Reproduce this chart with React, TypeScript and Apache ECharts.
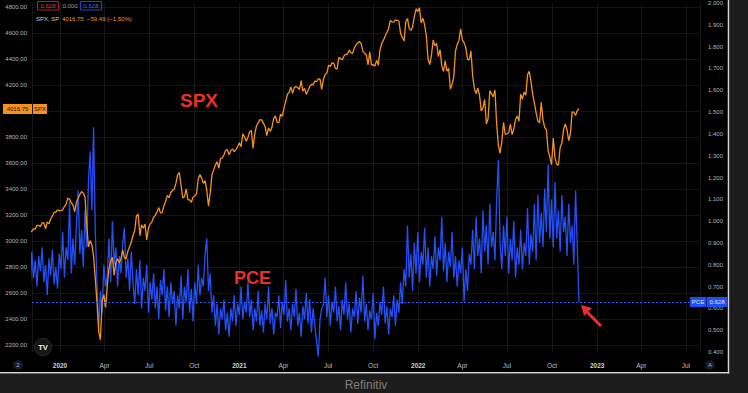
import { useEffect, useRef } from "react";
import * as echarts from "echarts";

// Half-weekly samples (Fri, following Tue) starting Fri 2019-11-01
const START = new Date(2019, 10, 1).getTime();
const STEP = 3.5 * 86400000;

const spxValues = [
  3067, 3075, 3093, 3092, 3120, 3120, 3110, 3140, 3141, 3093, 3146, 3132, 3169, 3193, 3221, 3223, 3240, 3231,
  3235, 3238, 3265, 3284, 3330, 3321, 3295, 3276, 3225, 3298,
  3328, 3358, 3380, 3370, 3338, 3128, 2954, 3003,
  2972, 2882, 2711, 2529, 2305, 2240, 2541, 2585,
  2489, 2659, 2790, 2846, 2875, 2737, 2837, 2863,
  2831, 2868, 2930, 2870, 2864, 2922, 2955, 2992, 3044, 3081,
  3194, 3207, 3041, 3125, 3098, 3131, 3009, 3100,
  3130, 3145, 3185, 3197, 3225, 3257, 3216, 3218, 3271, 3306,
  3351, 3333, 3373, 3390, 3397, 3443, 3508, 3527,
  3427, 3331, 3341, 3401, 3319, 3316, 3298, 3336,
  3348, 3361, 3477, 3512, 3484, 3443, 3465, 3390, 3270, 3370,
  3509, 3545, 3585, 3610, 3558, 3635, 3638, 3662,
  3699, 3702, 3663, 3695, 3709, 3687, 3703, 3727,
  3756, 3726, 3825, 3801, 3768, 3798, 3841, 3849, 3714, 3826,
  3887, 3911, 3934, 3932, 3907, 3881, 3811, 3870,
  3842, 3875, 3943, 3963, 3913, 3910, 3975, 3959,
  4020, 4074, 4129, 4142, 4185, 4135, 4180, 4187, 4181, 4165,
  4233, 4153, 4174, 4128, 4156, 4189, 4204, 4202,
  4230, 4227, 4247, 4246, 4166, 4246, 4281, 4291,
  4352, 4343, 4370, 4369, 4327, 4323, 4412, 4401, 4395, 4423,
  4437, 4436, 4468, 4449, 4442, 4486, 4509, 4523,
  4535, 4520, 4459, 4443, 4433, 4354, 4455, 4353,
  4357, 4345, 4391, 4351, 4471, 4520, 4545, 4575, 4605, 4631,
  4697, 4685, 4683, 4701, 4698, 4690, 4595, 4567,
  4538, 4686, 4712, 4634, 4620, 4649, 4726, 4786, 4766, 4794,
  4677, 4713, 4663, 4577, 4398, 4357, 4432, 4546,
  4501, 4521, 4419, 4471, 4349, 4304, 4385, 4306,
  4329, 4170, 4204, 4262, 4463, 4512, 4543, 4632,
  4546, 4526, 4488, 4397, 4393, 4462, 4272, 4175, 4132, 4175,
  4123, 4001, 4024, 4089, 3901, 3941, 4158, 4132,
  4109, 4161, 3901, 3735, 3675, 3765, 3912, 3821,
  3825, 3831, 3899, 3819, 3863, 3937, 3962, 3921, 4130, 4091,
  4145, 4122, 4280, 4305, 4228, 4128, 4058, 3986,
  3924, 3908, 4067, 3932, 3873, 3856, 3693, 3647, 3586, 3791,
  3640, 3589, 3583, 3720, 3753, 3859, 3901, 3856,
  3771, 3828, 3993, 3991, 3965, 4004, 4016.75,
];

const pceValues = [
  0.68, 0.86, 0.74, 0.82, 0.70, 0.84, 0.77, 0.88, 0.72, 0.80,
  0.66, 0.83, 0.75, 0.87, 0.71, 0.79, 0.69, 0.85,
  0.78, 0.95, 0.74, 0.88, 0.82, 1.09, 0.76, 0.92, 0.80, 0.98,
  1.14, 0.85, 0.96, 0.79, 1.05, 0.88, 1.18,
  1.32, 1.05, 1.43, 0.95, 0.72,
  0.50, 0.68, 0.58, 0.80, 0.70,
  0.75, 0.92, 0.72, 1.0, 0.80, 0.88, 0.70, 0.84, 0.76, 0.90,
  0.97, 0.74, 0.83, 0.68, 0.86, 0.72,
  0.62, 0.78, 0.66, 0.82, 0.60, 0.74, 0.68, 0.80, 0.58, 0.72,
  0.64, 0.76, 0.60, 0.70, 0.55, 0.73, 0.66, 0.78, 0.59, 0.70,
  0.56, 0.72, 0.62, 0.68, 0.52, 0.66, 0.60, 0.75, 0.55, 0.70,
  0.63, 0.78, 0.58, 0.69, 0.54, 0.72, 0.62, 0.80, 0.66, 0.74,
  0.70, 0.85, 0.92, 0.68, 0.76,
  0.58, 0.66, 0.52, 0.62, 0.48, 0.60, 0.55, 0.64, 0.50, 0.58,
  0.47, 0.60, 0.54, 0.66, 0.52, 0.62, 0.57, 0.70, 0.55, 0.63,
  0.58, 0.72, 0.56, 0.64, 0.50, 0.60, 0.54, 0.68, 0.52, 0.59,
  0.49, 0.62, 0.55, 0.70, 0.53, 0.60, 0.48, 0.58, 0.56, 0.66,
  0.51, 0.63, 0.57, 0.73, 0.54, 0.60, 0.50, 0.62, 0.56, 0.69,
  0.52, 0.58, 0.47, 0.61, 0.55, 0.67, 0.53, 0.64, 0.49, 0.60,
  0.52, 0.45, 0.38, 0.55, 0.60,
  0.62, 0.74, 0.56, 0.66, 0.52, 0.63, 0.58, 0.70, 0.54, 0.61,
  0.50, 0.64, 0.57, 0.72, 0.55, 0.62, 0.49, 0.60, 0.56, 0.68,
  0.53, 0.65, 0.58, 0.75, 0.54, 0.62, 0.50, 0.59, 0.55, 0.67,
  0.46, 0.58, 0.52, 0.63, 0.57, 0.70, 0.53, 0.61, 0.48, 0.60,
  0.56, 0.66, 0.52, 0.64, 0.58, 0.72, 0.62, 0.78,
  0.70, 0.98, 0.74, 0.85,
  0.68, 0.90, 0.76, 0.95, 0.72, 0.86, 0.80, 0.97, 0.74, 0.88,
  0.70, 0.84, 0.78, 0.93, 0.75, 0.88, 0.82, 1.02, 0.77, 0.90,
  0.72, 0.86, 0.79, 0.95, 0.74, 0.84, 0.70, 0.82, 0.76, 0.88,
  0.63, 0.78, 0.68, 0.85,
  0.80, 0.96, 0.78, 1.02, 0.84, 0.92, 0.76, 1.05, 0.86, 0.98,
  0.80, 1.08, 0.88, 0.95, 0.82, 1.10,
  1.28,
  0.90, 0.78, 0.98, 0.84, 1.02, 0.76, 0.92, 0.82, 1.0, 0.74,
  0.88, 0.80, 0.96, 0.78, 0.90, 0.84, 1.06, 0.80, 0.94, 0.86,
  1.08, 0.82, 1.12, 0.90, 1.04, 0.88, 1.15,
  0.95, 1.26, 0.92,
  1.10, 0.88, 1.18, 0.92, 1.05, 0.86, 1.12, 0.95, 1.02, 0.84,
  1.08, 0.90, 0.98, 0.80, 1.14, 0.88,
  0.628,
];

const MONTH_LABELS = ["Jan", "Feb", "Mar", "Apr", "May", "Jun", "Jul", "Aug", "Sep", "Oct", "Nov", "Dec"];
const SPX_LAST = "4016.75";
const SPX_CHANGE = "−59.49 (−1.50%)";
const PCE_LAST = 0.628;

const X_MIN = new Date(2019, 10, 4, 21).getTime();
const X_MAX = new Date(2023, 6, 29, 21).getTime();

const FONT = "'Liberation Sans', Arial, sans-serif";
const ORANGE = "#f5921e";
const BLUE = "#2450f5";
const RED = "#e8302a";

export default function App() {
  const ref = useRef<HTMLDivElement>(null);

  useEffect(() => {
    document.body.style.margin = "0";
    const chart = echarts.init(ref.current!, null, { renderer: "svg" });
    const spxData = spxValues.map((v, i) => [START + i * STEP, v]);
    const pceData = pceValues.map((v, i) => [START + i * STEP, v]);

    const xLabel = {
      color: "#bdbdbd",
      fontSize: 6.5,
      fontFamily: FONT,
      margin: 10,
      showMinLabel: false,
      showMaxLabel: false,
      formatter: (v: number) => {
        const d = new Date(v);
        const m = d.getMonth();
        return m === 0 ? "{y|" + d.getFullYear() + "}" : MONTH_LABELS[m];
      },
      rich: { y: { fontWeight: "bold", fontSize: 6.5, color: "#cfcfcf", fontFamily: FONT } },
    };

    chart.setOption({
      animation: false,
      backgroundColor: "#000000",
      grid: [
        { left: 32, right: 48, top: 7, bottom: 48 },
        { left: 32, right: 48, top: 0, bottom: 41 },
      ],
      xAxis: [
        {
          type: "time",
          gridIndex: 0,
          min: X_MIN,
          max: X_MAX,
          show: false,
        },
        {
          type: "time",
          gridIndex: 1,
          min: X_MIN,
          max: X_MAX,
          splitNumber: 14,
          minInterval: 80 * 86400000,
          maxInterval: 100 * 86400000,
          axisLine: { show: false },
          axisTick: { show: false },
          axisLabel: xLabel,
          splitLine: { show: true, lineStyle: { color: "#171717", width: 1 } },
        },
      ],
      yAxis: [
        {
          type: "value",
          gridIndex: 0,
          position: "left",
          min: 2200,
          max: 4800,
          interval: 200,
          axisLine: { show: false },
          axisTick: { show: false },
          axisLabel: {
            color: "#b5b5b5",
            fontSize: 6,
            fontFamily: FONT,
            margin: 5,
            // the 4000 label sits under the last-price tag, as in the reference
            formatter: (v: number) => (v === 4000 ? "" : v.toFixed(2)),
          },
          splitLine: { show: true, lineStyle: { color: "#141414", width: 1 } },
        },
        {
          type: "value",
          gridIndex: 1,
          position: "right",
          min: 0.4,
          max: 2.0,
          interval: 0.1,
          axisLine: { show: false },
          axisTick: { show: false },
          axisLabel: {
            color: "#b5b5b5",
            fontSize: 6,
            fontFamily: FONT,
            margin: 8,
            formatter: (v: number) => v.toFixed(3),
          },
          splitLine: { show: false },
        },
      ],
      series: [
        {
          name: "PCE",
          type: "line",
          xAxisIndex: 1,
          yAxisIndex: 1,
          data: pceData,
          showSymbol: false,
          clip: false,
          lineStyle: { color: BLUE, width: 1.3 },
          z: 3,
          markLine: {
            silent: true,
            symbol: "none",
            label: { show: false },
            lineStyle: { color: "#2a55ff", type: [2, 2], width: 1 },
            data: [{ yAxis: PCE_LAST }],
          },
        },
        {
          name: "SPX",
          type: "line",
          xAxisIndex: 0,
          yAxisIndex: 0,
          data: spxData,
          showSymbol: false,
          lineStyle: { color: ORANGE, width: 1.3 },
          z: 4,
        },
      ],
      graphic: [
        { type: "rect", shape: { x: 729.5, y: 0, width: 19, height: 393 }, style: { fill: "#1c1c1c" }, z: 50 },
        { type: "rect", shape: { x: 0, y: 374, width: 748, height: 19 }, style: { fill: "#1c1c1c" }, z: 50 },
        { type: "line", shape: { x1: 728.5, y1: 0, x2: 728.5, y2: 373.5 }, style: { stroke: "#d4d4d4", lineWidth: 1.5 }, z: 51 },
        { type: "line", shape: { x1: 0, y1: 372.8, x2: 729.2, y2: 372.8 }, style: { stroke: "#d4d4d4", lineWidth: 1.5 }, z: 51 },
        {
          type: "text", x: 366, y: 379, z: 52,
          style: { text: "Refinitiv", fill: "#7c7c7c", fontSize: 12, fontFamily: FONT, align: "center", verticalAlign: "top" },
        },
        // top-left legend
        { type: "rect", shape: { x: 37.5, y: 1.5, width: 21, height: 8.5 }, style: { fill: "none", stroke: "#a82222", lineWidth: 1 }, z: 60 },
        { type: "text", x: 48, y: 6, z: 61, style: { text: "0.628", fill: "#d83a3a", fontSize: 6, fontFamily: FONT, align: "center", verticalAlign: "middle" } },
        { type: "text", x: 70, y: 6, z: 61, style: { text: "0.000", fill: "#9a9a9a", fontSize: 6, fontFamily: FONT, align: "center", verticalAlign: "middle" } },
        { type: "rect", shape: { x: 80.5, y: 1.5, width: 21, height: 8.5 }, style: { fill: "none", stroke: "#2243c8", lineWidth: 1 }, z: 60 },
        { type: "text", x: 91, y: 6, z: 61, style: { text: "0.628", fill: "#3a66ff", fontSize: 6, fontFamily: FONT, align: "center", verticalAlign: "middle" } },
        { type: "text", x: 36, y: 19, z: 61, style: { text: "SPX, SP", fill: "#c4c4c4", fontSize: 6, fontFamily: FONT, verticalAlign: "middle" } },
        { type: "text", x: 62, y: 19, z: 61, style: { text: SPX_LAST + "  " + SPX_CHANGE, fill: ORANGE, fontSize: 6, fontFamily: FONT, verticalAlign: "middle" } },
        // left price label
        { type: "rect", shape: { x: 3, y: 104, width: 29, height: 10 }, style: { fill: ORANGE }, z: 60 },
        { type: "text", x: 17.5, y: 109, z: 61, style: { text: SPX_LAST, fill: "#111", fontSize: 6, fontFamily: FONT, align: "center", verticalAlign: "middle" } },
        { type: "rect", shape: { x: 33, y: 104, width: 14, height: 10 }, style: { fill: ORANGE }, z: 60 },
        { type: "text", x: 40, y: 109, z: 61, style: { text: "SPX", fill: "#111", fontSize: 6, fontFamily: FONT, align: "center", verticalAlign: "middle" } },
        // right price label
        { type: "rect", shape: { x: 690, y: 297, width: 16, height: 10 }, style: { fill: "#1f4ff0" }, z: 60 },
        { type: "text", x: 698, y: 302, z: 61, style: { text: "PCE", fill: "#e0e6ff", fontSize: 6, fontFamily: FONT, align: "center", verticalAlign: "middle" } },
        { type: "rect", shape: { x: 706.5, y: 297, width: 21, height: 10 }, style: { fill: "#1f4ff0" }, z: 60 },
        { type: "text", x: 717, y: 302, z: 61, style: { text: "0.628", fill: "#e0e6ff", fontSize: 6, fontFamily: FONT, align: "center", verticalAlign: "middle" } },
        // annotations
        { type: "text", x: 180, y: 100, z: 62, style: { text: "SPX", fill: RED, fontSize: 19, fontWeight: "bold", fontFamily: FONT, verticalAlign: "middle" } },
        { type: "text", x: 234, y: 278, z: 62, style: { text: "PCE", fill: RED, fontSize: 18, fontWeight: "bold", fontFamily: FONT, verticalAlign: "middle" } },
        { type: "line", shape: { x1: 601, y1: 326, x2: 587, y2: 312 }, style: { stroke: RED, lineWidth: 3 }, z: 62 },
        { type: "polygon", shape: { points: [[581, 305], [592, 308], [584, 316]] }, style: { fill: RED }, z: 62 },
        // TV logo and corner buttons
        { type: "circle", shape: { cx: 43, cy: 347, r: 8.5 }, style: { fill: "#161616", stroke: "#2a2a2a", lineWidth: 1 }, z: 60 },
        { type: "text", x: 43, y: 347.5, z: 61, style: { text: "TV", fill: "#eeeeee", fontSize: 7.5, fontWeight: "bold", fontFamily: FONT, align: "center", verticalAlign: "middle" } },
        { type: "circle", shape: { cx: 18, cy: 365, r: 5 }, style: { fill: "#141a2a" }, z: 60 },
        { type: "text", x: 18, y: 365, z: 61, style: { text: "2", fill: "#aab0c0", fontSize: 6, fontFamily: FONT, align: "center", verticalAlign: "middle" } },
        { type: "circle", shape: { cx: 710, cy: 365, r: 5 }, style: { fill: "#141a2a" }, z: 60 },
        { type: "text", x: 710, y: 365, z: 61, style: { text: "A", fill: "#aab0c0", fontSize: 6, fontFamily: FONT, align: "center", verticalAlign: "middle" } },
      ],
    });

    return () => chart.dispose();
  }, []);

  return <div ref={ref} style={{ position: "absolute", left: 0, top: 0, width: 748, height: 393 }} />;
}
